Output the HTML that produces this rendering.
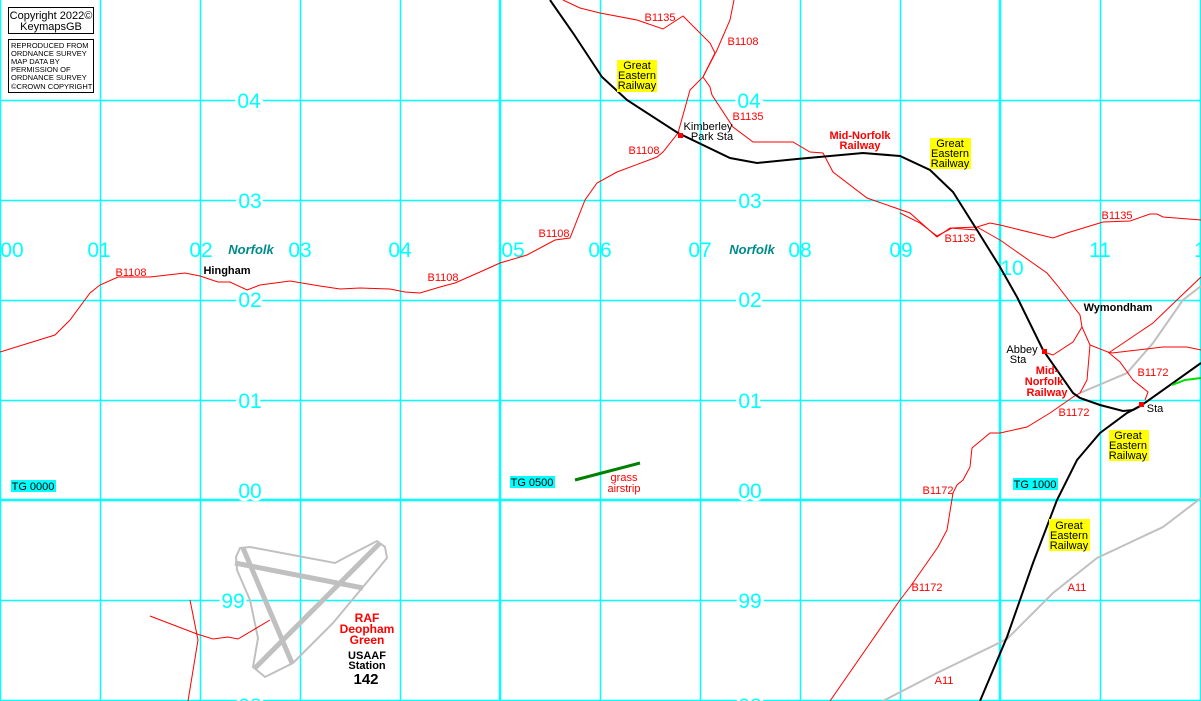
<!DOCTYPE html>
<html><head><meta charset="utf-8"><style>
html,body{margin:0;padding:0;background:#fff;}
svg{display:block;}
text{font-family:"Liberation Sans",sans-serif;}
.g{fill:#00ffff;font-size:21px;stroke:#fff;stroke-width:6px;paint-order:stroke;text-anchor:middle;}
.r{fill:#ff0000;font-size:11px;text-anchor:middle;}
.k{fill:#000;font-size:11px;text-anchor:middle;}
.rb{fill:#ff0000;font-size:11px;font-weight:bold;text-anchor:middle;}
.kb{fill:#000;font-size:11px;font-weight:bold;text-anchor:middle;}
.nf{fill:#008b8b;font-size:13px;font-weight:bold;font-style:italic;text-anchor:middle;}
</style></head><body>
<svg width="1201" height="701" viewBox="0 0 1201 701" xmlns="http://www.w3.org/2000/svg">
<g stroke="#00ffff" stroke-width="1.5" fill="none">
<line x1="0.5" y1="0" x2="0.5" y2="701"/>
<line x1="100.5" y1="0" x2="100.5" y2="701"/>
<line x1="200.5" y1="0" x2="200.5" y2="701"/>
<line x1="300.5" y1="0" x2="300.5" y2="701"/>
<line x1="400.5" y1="0" x2="400.5" y2="701"/>
<line x1="600.5" y1="0" x2="600.5" y2="701"/>
<line x1="700.5" y1="0" x2="700.5" y2="701"/>
<line x1="800.5" y1="0" x2="800.5" y2="701"/>
<line x1="900.5" y1="0" x2="900.5" y2="701"/>
<line x1="1100.5" y1="0" x2="1100.5" y2="701"/>
<line x1="1200.5" y1="0" x2="1200.5" y2="701"/>
<line x1="0" y1="100.5" x2="1201" y2="100.5"/>
<line x1="0" y1="200.5" x2="1201" y2="200.5"/>
<line x1="0" y1="300.5" x2="1201" y2="300.5"/>
<line x1="0" y1="400.5" x2="1201" y2="400.5"/>
<line x1="0" y1="600.5" x2="1201" y2="600.5"/>
<line x1="0" y1="700.5" x2="1201" y2="700.5"/>
</g>
<g stroke="#00ffff" stroke-width="2.5" fill="none">
<line x1="500" y1="0" x2="500" y2="701"/>
<line x1="1000" y1="0" x2="1000" y2="701"/>
<line x1="0" y1="500" x2="1201" y2="500"/>
</g>
<!-- grid labels -->
<text class="g" x="249" y="108">04</text><text class="g" x="749" y="108">04</text>
<text class="g" x="250" y="208">03</text><text class="g" x="750" y="208">03</text>
<text class="g" x="250" y="307">02</text><text class="g" x="750" y="307">02</text>
<text class="g" x="250" y="408">01</text><text class="g" x="750" y="408">01</text>
<text class="g" x="250" y="498">00</text><text class="g" x="750" y="498">00</text>
<text class="g" x="233" y="608">99</text><text class="g" x="750" y="608">99</text>
<text class="g" x="250" y="713">98</text><text class="g" x="750" y="713">98</text>
<g class="g" style="stroke-width:0">
<text x="12" y="257">00</text><text x="99" y="257">01</text><text x="201" y="257">02</text>
<text x="300" y="257">03</text><text x="400" y="257">04</text><text x="513" y="257">05</text>
<text x="600" y="257">06</text><text x="700" y="257">07</text><text x="800" y="257">08</text>
<text x="901" y="257">09</text><text x="1012" y="275">10</text><text x="1100" y="257">11</text>
<text x="1200" y="257">1</text>
</g>
<!-- A11 grey -->
<g stroke="#c0c0c0" stroke-width="2" fill="none">
<polyline points="1080,393 1127,373 1153,343 1183,300 1201,286"/>
<polyline points="883,701 937,673 1007,639 1053,593 1097,558 1163,527 1201,498"/>
</g>
<!-- airfield -->
<polygon points="240,548 250,547 335,563 350,555 377,541 385,547 387,558 333,623 323,633 293,663 265,677 253,667 258,638 250,600 237,570 236,557" fill="none" stroke="#c0c0c0" stroke-width="2"/>
<g stroke="#c0c0c0" stroke-width="5">
<line x1="243" y1="548" x2="292" y2="663"/>
<line x1="235" y1="563" x2="363" y2="588"/>
<line x1="380" y1="543" x2="255" y2="668"/>
</g>
<!-- red roads -->
<g stroke="#ff0000" stroke-width="1" fill="none">
<polyline points="0,352 55,335 70,320 90,293 100,285 118,277 150,277 185,273 200,276 218,282 230,282 247,290 260,285 290,281 320,286 340,289 360,288 390,289 405,292 420,293 440,287 455,283 480,272 500,263 527,255 555,240 570,238 585,200 597,183 617,172 657,157 663,152 678,133 690,90 703,77 717,50 730,20 734,0"/>
<polyline points="563,0 580,8 600,13 637,20 663,29 683,16 710,43 715,53 703,77 710,87 712,95 733,127 753,142 793,142 810,152 823,153 833,172 867,198 910,213 937,237 950,228 977,230"/>
<polyline points="900,213 920,223 937,236 952,228 977,227 990,223 1000,225 1053,238 1067,233 1103,222 1130,221 1150,214 1157,214 1163,217 1201,220"/>
<polyline points="977,227 1000,240 1047,273 1057,285 1080,315 1082,327 1090,345 1108,352 1120,362 1133,380 1148,392 1145,400"/>
<polyline points="1082,327 1073,342 1053,355 1044,352"/>
<polyline points="1090,345 1087,380 1080,393 1073,397 1050,413 1027,427 1000,433 990,433 972,448 970,467 963,480 957,485 953,493 947,530 938,547 910,587 900,600 830,701"/>
<polyline points="1108,352 1112,353 1163,347 1187,347 1201,350"/>
<polyline points="1110,352 1153,323 1180,297 1201,277"/>
<polyline points="150,616 197,634 213,639 228,637 238,639 270,620"/>
<polyline points="190,600 198,640 188,701"/>
</g>
<!-- railway -->
<g stroke="#000" stroke-width="2" fill="none">
<polyline points="550,0 573,33 602,77 627,100 678,133 730,158 757,163 797,159 863,153 900,156 930,170 953,192 977,230 1000,267 1017,297 1043,350 1073,393 1080,398 1100,405 1123,411 1133,410 1142,405 1201,363"/>
<polyline points="1142,405 1127,413 1100,433 1077,460 1057,500 1033,563 1007,637 980,701"/>
</g>
<polyline points="1172,385 1185,380 1201,378" stroke="#00e000" stroke-width="2" fill="none"/>
<line x1="575" y1="480" x2="640" y2="463" stroke="#008000" stroke-width="3"/>
<!-- stations -->
<rect x="678" y="133" width="5" height="5" fill="#ff0000"/>
<rect x="1042" y="349" width="5" height="5" fill="#ff0000"/>
<rect x="1139" y="402" width="5" height="5" fill="#ff0000"/>
<!-- yellow labels -->
<g fill="#ffff00">
<rect x="617" y="60" width="40" height="32"/>
<rect x="930" y="138" width="41" height="31"/>
<rect x="1109" y="430" width="40" height="31"/>
<rect x="1049" y="519" width="41" height="32"/>
</g>
<g class="k">
<text x="637" y="69">Great</text><text x="637" y="79">Eastern</text><text x="637" y="89">Railway</text>
<text x="950" y="147">Great</text><text x="950" y="157">Eastern</text><text x="950" y="167">Railway</text>
<text x="1128" y="439">Great</text><text x="1128" y="449">Eastern</text><text x="1128" y="459">Railway</text>
<text x="1069" y="529">Great</text><text x="1069" y="539">Eastern</text><text x="1069" y="549">Railway</text>
<text x="708" y="130">Kimberley</text><text x="712" y="140">Park Sta</text>
<text x="1022" y="353">Abbey</text><text x="1018" y="363">Sta</text>
<text x="1155" y="412">Sta</text>
</g>
<g class="rb">
<text x="860" y="139">Mid-Norfolk</text><text x="860" y="149">Railway</text>
<text x="1047" y="374">Mid-</text><text x="1044" y="385">Norfolk</text><text x="1047" y="396">Railway</text>
<text x="367" y="622" style="font-size:12px">RAF</text><text x="367" y="633" style="font-size:12px">Deopham</text><text x="367" y="644" style="font-size:12px">Green</text>
</g>
<g class="kb">
<text x="227" y="274">Hingham</text>
<text x="1118" y="311">Wymondham</text>
<text x="367" y="659">USAAF</text><text x="367" y="669">Station</text>
<text x="366" y="684" style="font-size:15px">142</text>
</g>
<g class="r">
<text x="131" y="276">B1108</text><text x="443" y="281">B1108</text><text x="554" y="237">B1108</text>
<text x="644" y="154">B1108</text><text x="743" y="45">B1108</text>
<text x="660" y="21">B1135</text><text x="748" y="120">B1135</text><text x="960" y="242">B1135</text>
<text x="1117" y="219">B1135</text>
<text x="1153" y="376">B1172</text><text x="1074" y="416">B1172</text><text x="938" y="494">B1172</text>
<text x="927" y="591">B1172</text>
<text x="1077" y="591">A11</text><text x="944" y="684">A11</text>
<text x="624" y="481">grass</text><text x="624" y="492">airstrip</text>
</g>
<g class="nf">
<text x="251" y="254">Norfolk</text><text x="752" y="254">Norfolk</text>
</g>
<!-- grid refs -->
<g fill="#00ffff"><rect x="11" y="480" width="45" height="12"/><rect x="510" y="476" width="45" height="12"/><rect x="1013" y="478" width="45" height="12"/></g>
<g class="k"><text x="33" y="490">TG 0000</text><text x="532" y="486">TG 0500</text><text x="1035" y="488">TG 1000</text></g>
<!-- copyright -->
<rect x="8.5" y="7.5" width="85" height="26" fill="#fff" stroke="#000"/>
<text x="51" y="19" style="font-size:11px;text-anchor:middle">Copyright 2022©</text>
<text x="51" y="30" style="font-size:11px;text-anchor:middle">KeymapsGB</text>
<rect x="8.5" y="39.5" width="85" height="53" fill="#fff" stroke="#000"/>
<g style="font-size:7.5px">
<text x="11" y="48">REPRODUCED FROM</text><text x="11" y="56">ORDNANCE SURVEY</text>
<text x="11" y="64">MAP DATA BY</text><text x="11" y="72">PERMISSION OF</text>
<text x="11" y="80">ORDNANCE SURVEY</text><text x="11" y="89">©CROWN COPYRIGHT</text>
</g>
</svg>
</body></html>
